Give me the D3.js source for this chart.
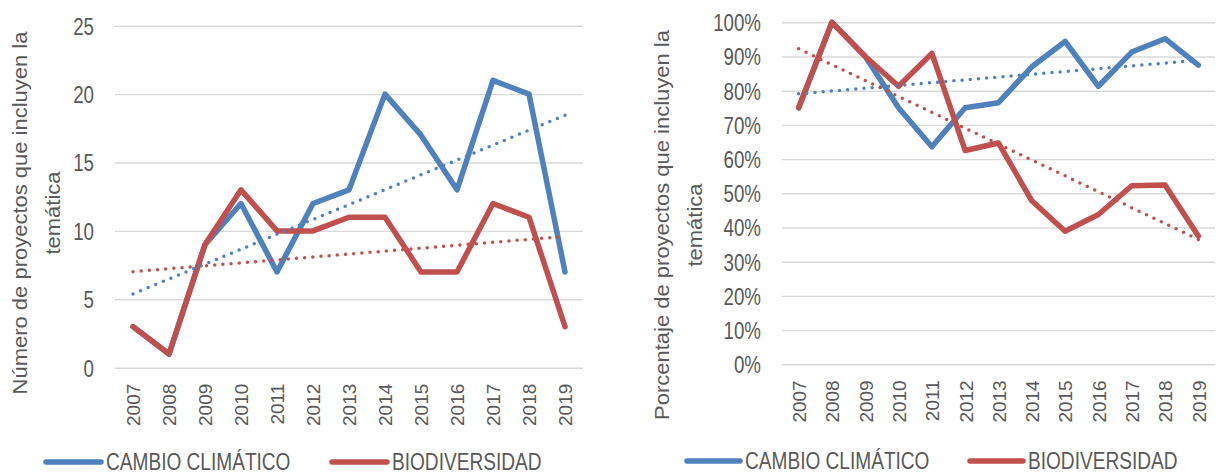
<!DOCTYPE html>
<html>
<head>
<meta charset="utf-8">
<script src="https://cdn.jsdelivr.net/npm/d3@7"></script>
<style>
  body { margin: 0; background: #fff; }
  svg { display: block; font-family: "Liberation Sans", Arial, sans-serif; }
</style>
</head>
<body>
<svg id="chart" width="1219" height="475"></svg>
<script>
// Data
var years = [2007, 2008, 2009, 2010, 2011, 2012, 2013, 2014, 2015, 2016, 2017, 2018, 2019];
var cambioCount = [3, 1, 9, 12, 7, 12, 13, 20, 17, 13, 21, 20, 7];
var bioCount    = [3, 1, 9, 13, 10, 10, 11, 11, 7, 7, 12, 11, 3];
var cambioPct = [75, 100, 90, 75, 63.6, 75, 76.5, 87, 94.4, 81.3, 91.3, 95.2, 87.5];
var bioPct    = [75, 100, 90, 81.3, 90.9, 62.5, 64.7, 47.8, 38.9, 43.8, 52.2, 52.4, 37.5];
var countTicks = [0, 5, 10, 15, 20, 25];
var pctTicks = [0, 10, 20, 30, 40, 50, 60, 70, 80, 90, 100];
var seriesNames = ["CAMBIO CLIMÁTICO", "BIODIVERSIDAD"];
var seriesColors = ["#4f81bd", "#c0504d"];

var textColor = "#595959";
var svg = d3.select("#chart");

// Least squares trend (like Excel's linear trendline)
function linearFit(vals) {
  var n = vals.length, mx = (n - 1) / 2, my = d3.mean(vals);
  var sxy = 0, sxx = 0;
  vals.forEach(function(v, i) { sxy += (i - mx) * (v - my); sxx += (i - mx) * (i - mx); });
  var slope = sxy / sxx;
  return vals.map(function(v, i) { return my + slope * (i - mx); });
}

function drawPanel(o) {
  var g = svg.append("g");
  var x = d3.scalePoint().domain(years).range(o.xRange).padding(0.5);
  var y = d3.scaleLinear().domain([0, o.yMax]).range(o.yRange);

  // y axis with gridlines
  var yAxis = g.append("g")
    .attr("transform", "translate(" + o.xRange[0] + ",0)")
    .call(d3.axisLeft(y).tickValues(o.ticks).tickFormat(o.fmt)
      .tickSize(-(o.xRange[1] - o.xRange[0])));
  yAxis.select(".domain").remove();
  yAxis.selectAll("line").attr("stroke", "#d9d9d9").attr("stroke-width", 1.4);
  yAxis.selectAll("text")
    .attr("x", null).attr("dy", "0.35em")
    .attr("transform", "translate(-21,0) scale(0.78,1)")
    .attr("fill", textColor).style("font-size", "24px");

  // x axis (labels only)
  var xAxis = g.append("g")
    .attr("transform", "translate(0," + o.yRange[0] + ")")
    .call(d3.axisBottom(x).tickSize(0));
  xAxis.select(".domain").remove();
  xAxis.selectAll("text")
    .attr("transform", "rotate(-90)")
    .attr("text-anchor", "end")
    .attr("x", -16).attr("y", 0).attr("dy", "0.36em")
    .attr("fill", textColor).style("font-size", "19px");

  var line = d3.line()
    .x(function(d, i) { return x(years[i]); })
    .y(function(d) { return y(d); });

  o.series.forEach(function(vals, k) {
    g.append("path").datum(vals)
      .attr("d", line)
      .attr("fill", "none")
      .attr("stroke", seriesColors[k])
      .attr("stroke-width", 5.5)
      .attr("stroke-linejoin", "round")
      .attr("stroke-linecap", "round");
  });

  // dotted trendlines
  o.series.forEach(function(vals, k) {
    var fit = linearFit(vals);
    g.append("path").datum([fit[0], fit[fit.length - 1]])
      .attr("d", d3.line()
        .x(function(d, i) { return x(years[i * (years.length - 1)]); })
        .y(function(d) { return y(d); }))
      .attr("fill", "none")
      .attr("stroke", seriesColors[k])
      .attr("stroke-width", 3.5)
      .attr("stroke-linecap", "round")
      .attr("stroke-dasharray", "0 8.2");
  });

  // axis title, two lines
  o.title.forEach(function(t, i) {
    g.append("text")
      .attr("transform", "translate(" + o.titleX[i] + "," + o.titleY + ") scale(0.95,1) rotate(-90)")
      .attr("text-anchor", "middle")
      .attr("fill", textColor)
      .style("font-size", "22px")
      .text(t);
  });

  // legend
  seriesNames.forEach(function(name, k) {
    var lx = o.legendX[k];
    g.append("line")
      .attr("x1", lx).attr("x2", lx + o.legendLen)
      .attr("y1", o.legendY).attr("y2", o.legendY)
      .attr("stroke", seriesColors[k]).attr("stroke-width", 5.5)
      .attr("stroke-linecap", "round");
    g.append("text")
      .attr("transform", "translate(" + (lx + o.legendLen + 5) + "," + (o.legendY + 7.5) + ") scale(0.83,1)")
      .attr("fill", textColor)
      .style("font-size", "23px")
      .text(name);
  });
}

drawPanel({
  xRange: [115, 583], yRange: [367.7, 25.7], yMax: 25,
  ticks: countTicks, fmt: function(d) { return d; },
  series: [cambioCount, bioCount],
  title: ["Número de proyectos que incluyen la", "temática"],
  titleX: [27, 60], titleY: 213,
  legendX: [46, 332], legendLen: 55, legendY: 462
});

drawPanel({
  xRange: [782, 1215], yRange: [364.3, 22.3], yMax: 100,
  ticks: pctTicks, fmt: function(d) { return d + "%"; },
  series: [cambioPct, bioPct],
  title: ["Porcentaje de proyectos que incluyen la", "temática"],
  titleX: [669, 702], titleY: 225,
  legendX: [687, 970], legendLen: 53, legendY: 461
});
</script>
</body>
</html>
